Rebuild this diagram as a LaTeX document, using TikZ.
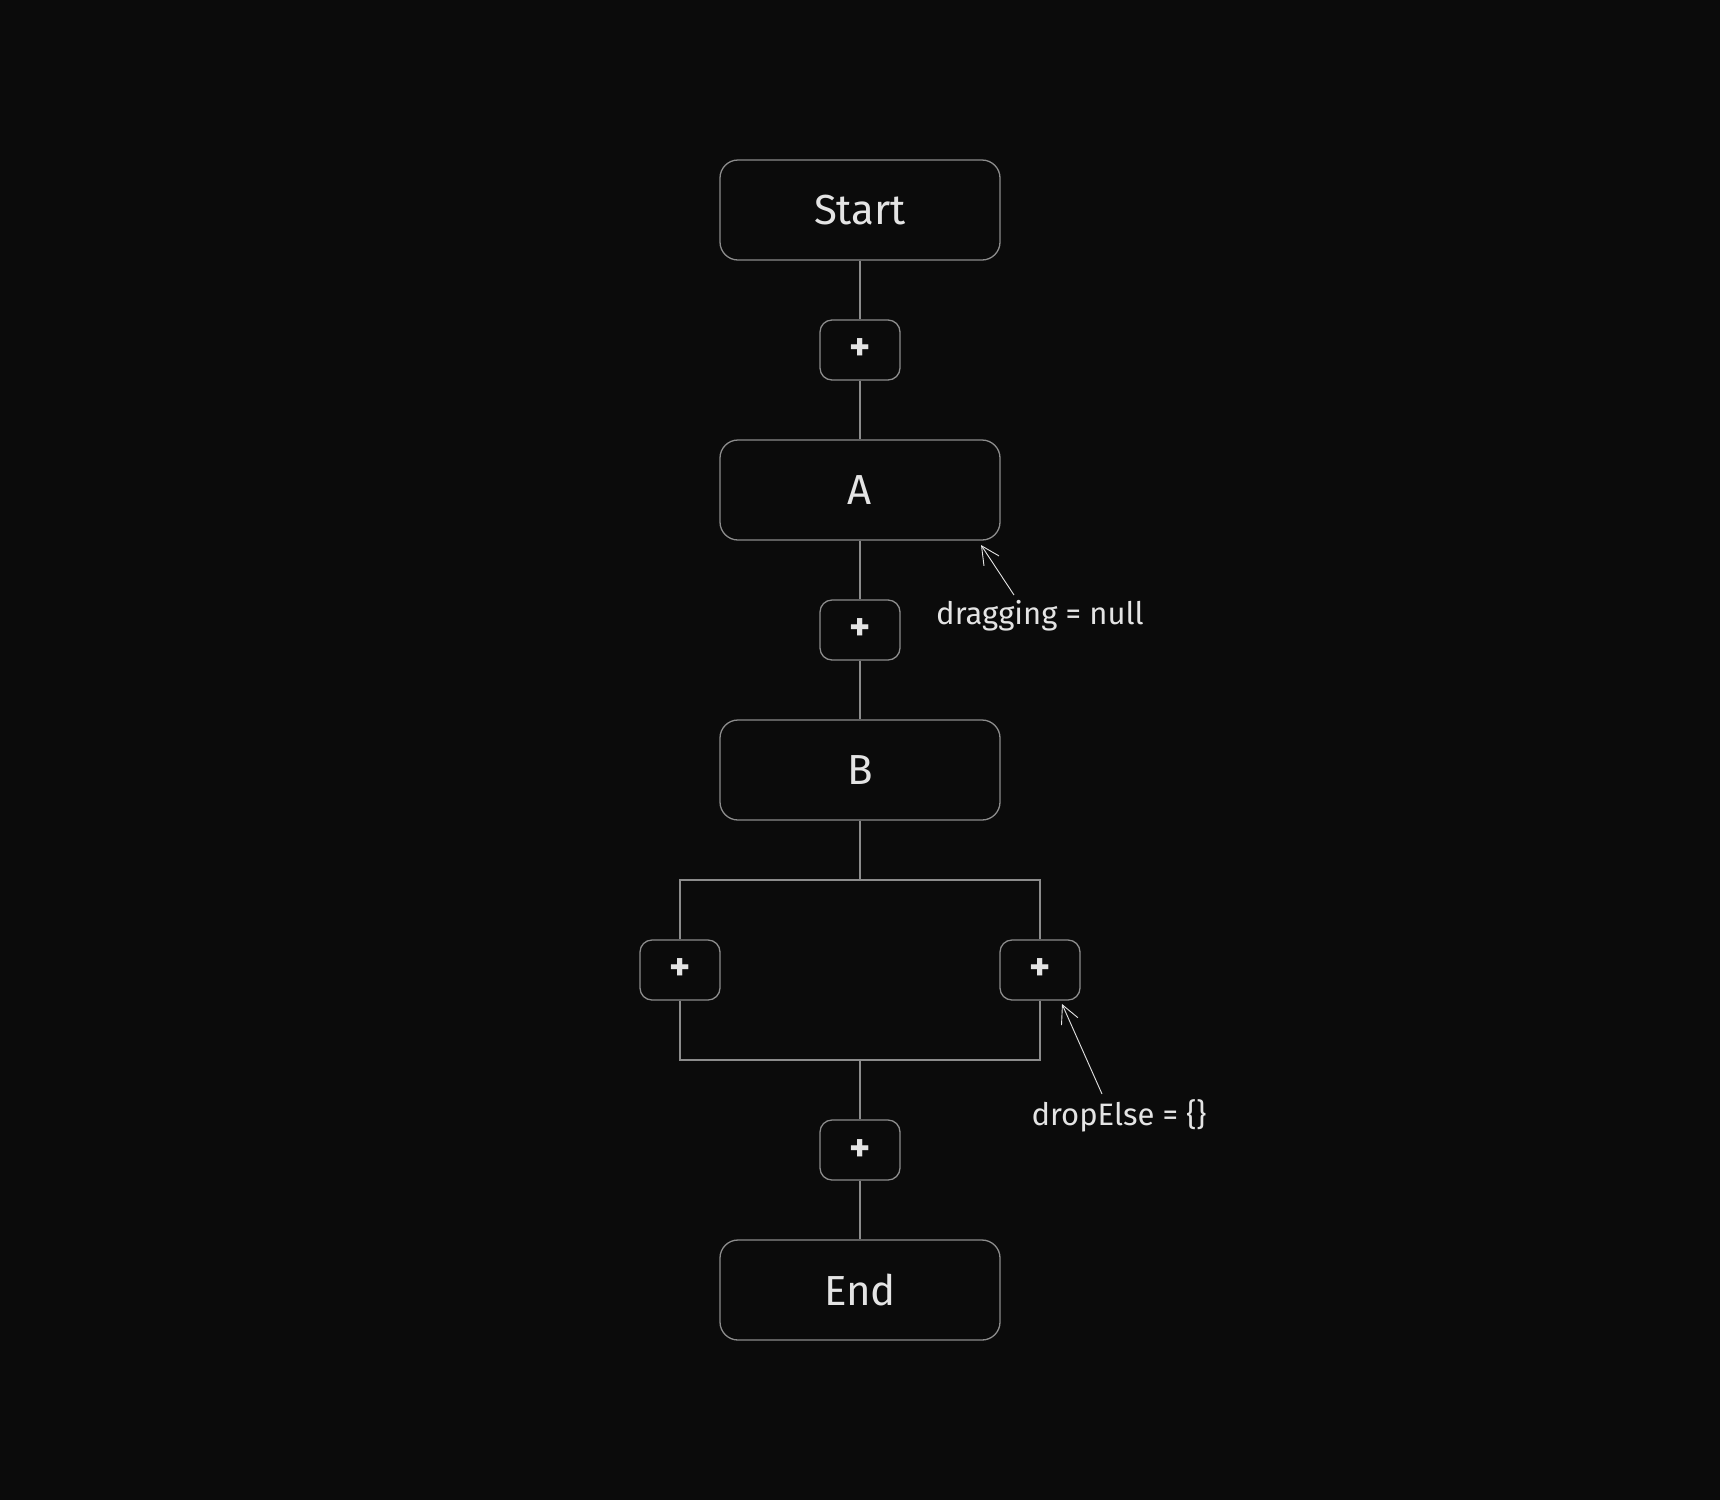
\documentclass[tikz,border=0pt]{standalone}
\usepackage{fontspec}
\setmainfont{Fira Sans}
\usetikzlibrary{arrows.meta}
\definecolor{bg}{RGB}{11,11,11}
\definecolor{edge}{RGB}{140,140,140}
\definecolor{ink}{RGB}{228,228,228}
\tikzset{
  mainbox/.style={draw=edge, line width=1.3pt, fill=bg, rounded corners=18pt,
    minimum width=280pt, minimum height=100pt, inner sep=0pt, text=ink,
    font=\fontsize{42}{44}\selectfont},
  plusbox/.style={draw=edge, line width=1.3pt, fill=bg, rounded corners=12pt,
    minimum width=80pt, minimum height=60pt, inner sep=0pt, text=ink,
    font=\fontsize{40}{42}\selectfont\bfseries},
  conn/.style={draw=edge, line width=1.3pt},
  note/.style={text=ink, inner sep=0pt, font=\fontsize{31}{33}\selectfont},
  notearrow/.style={draw=ink, line width=0.9pt, -{Straight Barb[length=18pt,width=18pt,line width=0.9pt]}}
}
\begin{document}
\begin{tikzpicture}[x=1pt,y=-1pt]
\useasboundingbox[fill=bg] (0,0) rectangle (1720,1500);
\node[mainbox] (start) at (860,210) {Start};
\node[plusbox] (p1) at (860,350) {+};
\node[mainbox] (a) at (860,490) {A};
\node[plusbox] (p2) at (860,630) {+};
\node[mainbox] (b) at (860,770) {B};
\node[plusbox] (pl) at (680,970) {+};
\node[plusbox] (pr) at (1040,970) {+};
\node[plusbox] (p3) at (860,1150) {+};
\node[mainbox] (end) at (860,1290) {End};
\coordinate (tl) at (680,880);
\coordinate (tr) at (1040,880);
\coordinate (tm) at (860,880);
\coordinate (bl) at (680,1060);
\coordinate (br) at (1040,1060);
\coordinate (bm) at (860,1060);
\draw[conn] (start.south) -- (p1.north);
\draw[conn] (p1.south) -- (a.north);
\draw[conn] (a.south) -- (p2.north);
\draw[conn] (p2.south) -- (b.north);
\draw[conn] (b.south) -- (tm);
\draw[conn] (pl.north) -- (tl) -- (tr) -- (pr.north);
\draw[conn] (pl.south) -- (bl) -- (br) -- (pr.south);
\draw[conn] (bm) -- (p3.north);
\draw[conn] (p3.south) -- (end.north);
\node[note] (n1) at (1040,616) {dragging = null};
\node[note] (n2) at (1119,1116) {dropElse = \{\}};
\coordinate (n1s) at (1014,595);
\coordinate (n1t) at (981,545);
\coordinate (n2s) at (1102,1094);
\coordinate (n2t) at (1062,1004);
\draw[notearrow] (n1s) -- (n1t);
\draw[notearrow] (n2s) -- (n2t);
\end{tikzpicture}
\end{document}
